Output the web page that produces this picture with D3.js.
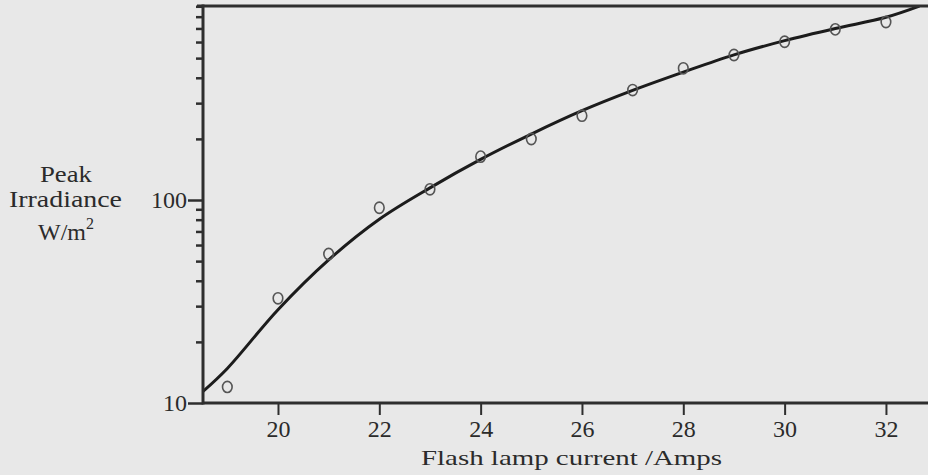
<!DOCTYPE html>
<html>
<head>
<meta charset="utf-8">
<script src="https://cdn.jsdelivr.net/npm/d3@7"></script>
<style>
  html, body { margin: 0; padding: 0; background: #e8e8e8; }
  svg { display: block; }
  text { font-family: "Liberation Serif", "Times New Roman", serif; fill: #2b2b2b; }
</style>
</head>
<body>
<svg id="chart" width="928" height="475"></svg>
<script>
// Measured peak irradiance at each flash lamp current
const current = [19, 20, 21, 22, 23, 24, 25, 26, 27, 28, 29, 30, 31, 32];
const irradiance = [12.0, 32.8, 54.2, 91.6, 112.9, 163.5, 199.8, 260.2, 348, 445.5, 518, 602, 693, 753];

// Smooth fitted curve through the measurements
const fitCurrent = [18.52, 19, 20, 21, 22, 23, 24, 25, 26, 27, 28, 29, 30, 31, 32, 32.66];
const fitIrradiance = [11.4, 14.8, 28.8, 50.7, 80.4, 114.8, 158.5, 211.3, 275.4, 346.7, 426.6, 518.8, 609.5, 699.8, 794.3, 901.6];

// Axis ticks
const xTicks = [20, 22, 24, 26, 28, 30, 32];
const yMajorTicks = [10, 100];
const yMinorTicks = [20, 30, 40, 50, 60, 70, 80, 90, 200, 300, 400, 500, 600, 700, 800, 900];

const svg = d3.select("#chart");
const plotLeft = 203, plotRight = 928, plotTop = 6, plotBottom = 403;

const x = d3.scaleLinear().domain([18.52, 32.83]).range([plotLeft, plotRight]);
const y = d3.scaleLog().domain([10, 903]).range([plotBottom, plotTop]);

const ink = "#2e2e2e";

// Fitted curve (clipped to the plot frame)
svg.append("clipPath").attr("id", "plotclip")
  .append("rect").attr("x", plotLeft).attr("y", plotTop)
  .attr("width", plotRight - plotLeft).attr("height", plotBottom - plotTop);

const line = d3.line()
  .x((d, i) => x(fitCurrent[i]))
  .y((d, i) => y(fitIrradiance[i]))
  .curve(d3.curveCatmullRom.alpha(0.5));

svg.append("path")
  .datum(fitCurrent)
  .attr("clip-path", "url(#plotclip)")
  .attr("d", line)
  .attr("fill", "none")
  .attr("stroke", "#1c1c1c")
  .attr("stroke-width", 3);

// Data points
svg.append("g").selectAll("ellipse")
  .data(current)
  .join("ellipse")
  .attr("cx", d => x(d))
  .attr("cy", (d, i) => y(irradiance[i]))
  .attr("rx", 4.8)
  .attr("ry", 5.6)
  .attr("fill", "none")
  .attr("stroke", "#555")
  .attr("stroke-width", 1.6);

// Y axis: minor ticks
const yMinor = svg.append("g")
  .attr("transform", `translate(${plotLeft},0)`)
  .call(d3.axisLeft(y).tickValues(yMinorTicks).tickSize(7).tickFormat(""));
yMinor.select(".domain").remove();
yMinor.selectAll("line").attr("stroke", ink).attr("stroke-width", 2.5);

// Y axis: major ticks with labels
const yMajor = svg.append("g")
  .attr("transform", `translate(${plotLeft},0)`)
  .call(d3.axisLeft(y).tickValues(yMajorTicks).tickSize(15).tickPadding(1).tickFormat(d3.format("d")));
yMajor.select(".domain").remove();
yMajor.selectAll("line").attr("stroke", ink).attr("stroke-width", 2.5);
yMajor.selectAll("text").attr("font-size", 24).attr("fill", "#2b2b2b")
  .style("font-family", "'Liberation Serif', serif");

// X axis ticks and labels
const xAxis = svg.append("g")
  .attr("transform", `translate(0,${plotBottom})`)
  .call(d3.axisBottom(x).tickValues(xTicks).tickSize(12).tickPadding(5).tickFormat(d3.format("d")));
xAxis.select(".domain").remove();
xAxis.selectAll("line").attr("stroke", ink).attr("stroke-width", 2);
xAxis.selectAll("text").attr("font-size", 24).attr("fill", "#2b2b2b")
  .style("font-family", "'Liberation Serif', serif");

// Frame lines: left, bottom, top
svg.append("line").attr("x1", plotLeft).attr("x2", plotLeft).attr("y1", plotTop - 1.5).attr("y2", plotBottom + 1.5)
  .attr("stroke", ink).attr("stroke-width", 3);
svg.append("line").attr("x1", plotLeft).attr("x2", plotRight).attr("y1", plotBottom).attr("y2", plotBottom)
  .attr("stroke", ink).attr("stroke-width", 3);
svg.append("line").attr("x1", plotLeft - 6).attr("x2", plotRight).attr("y1", plotTop).attr("y2", plotTop)
  .attr("stroke", ink).attr("stroke-width", 3);

// X axis title
svg.append("text")
  .attr("x", 421).attr("y", 465)
  .attr("font-size", 22)
  .attr("textLength", 301)
  .attr("lengthAdjust", "spacingAndGlyphs")
  .text("Flash lamp current /Amps");

// Y axis title, three centred lines
const yTitle = svg.append("g").attr("font-size", 23).attr("text-anchor", "middle");
yTitle.append("text").attr("x", 66).attr("y", 182)
  .attr("textLength", 52).attr("lengthAdjust", "spacingAndGlyphs").text("Peak");
yTitle.append("text").attr("x", 65.5).attr("y", 207)
  .attr("textLength", 113).attr("lengthAdjust", "spacingAndGlyphs").text("Irradiance");
const unit = yTitle.append("text").attr("x", 66).attr("y", 240).attr("font-size", 24);
unit.append("tspan").text("W/m");
unit.append("tspan").attr("font-size", 16).attr("dy", -11).text("2");
</script>
</body>
</html>
